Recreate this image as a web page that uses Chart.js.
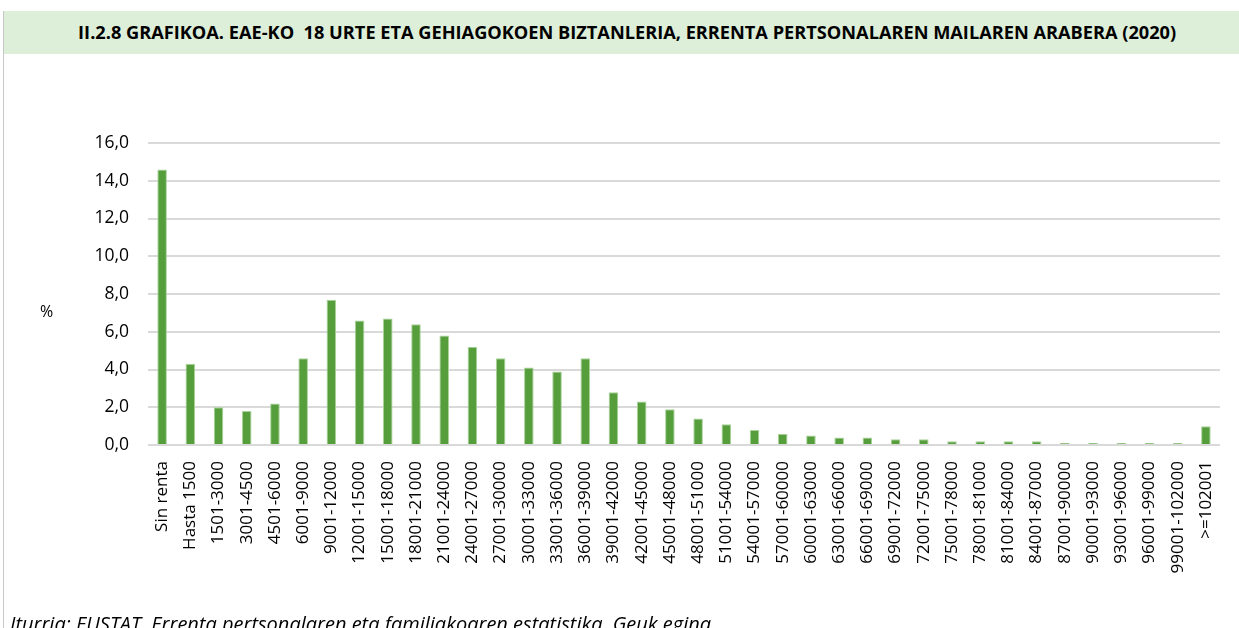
<!DOCTYPE html>
<html>
<head>
<meta charset="utf-8">
<script src="https://cdn.jsdelivr.net/npm/chart.js@4/dist/chart.umd.min.js"></script>
<style>
  html, body { margin: 0; padding: 0; background: #fff; }
  #wrap { position: relative; width: 1239px; height: 628px; overflow: hidden; }
  #chart { position: absolute; left: 0; top: 0; }
  .frame { position: absolute; left: 3px; top: 11px; width: 1px; height: 617px; background: #c8c8c8; }
  .title {
    position: absolute; left: 4px; top: 11px; width: 1235px; height: 43px;
    background: #deefd9; font-family: "Open Sans", sans-serif; font-weight: bold;
    font-size: 17px; line-height: 43px; text-align: center; color: #000; white-space: nowrap;
  }
  .title span { display: inline-block; transform: translateX(6px) scaleX(1.07); transform-origin: 50% 50%; }
  .pct { position: absolute; left: 40px; top: 300px; font-family: "Open Sans", sans-serif; font-size: 16px; }
  .src {
    position: absolute; left: 10px; top: 614px; font-family: "Open Sans", sans-serif;
    font-style: italic; font-size: 20px; line-height: 20px; color: #000; white-space: nowrap;
  }
</style>
</head>
<body>
<div id="wrap">
  <canvas id="chart" width="1239" height="628"></canvas>
  <div class="frame"></div>
  <div class="title"><span>II.2.8 GRAFIKOA. EAE-KO&nbsp; 18 URTE ETA GEHIAGOKOEN BIZTANLERIA, ERRENTA PERTSONALAREN MAILAREN ARABERA (2020)</span></div>
  <div class="pct">%</div>
  <div class="src">Iturria: EUSTAT. Errenta pertsonalaren eta familiakoaren estatistika. Geuk egina</div>
</div>
<script>
const labels = [
  "Sin renta", "Hasta 1500", "1501-3000", "3001-4500", "4501-6000", "6001-9000",
  "9001-12000", "12001-15000", "15001-18000", "18001-21000", "21001-24000",
  "24001-27000", "27001-30000", "30001-33000", "33001-36000", "36001-39000",
  "39001-42000", "42001-45000", "45001-48000", "48001-51000", "51001-54000",
  "54001-57000", "57001-60000", "60001-63000", "63001-66000", "66001-69000",
  "69001-72000", "72001-75000", "75001-78000", "78001-81000", "81001-84000",
  "84001-87000", "87001-90000", "90001-93000", "93001-96000", "96001-99000",
  "99001-102000", ">=102001"
];

const values = [
  14.6, 4.3, 2.0, 1.8, 2.2, 4.6,
  7.7, 6.6, 6.7, 6.4, 5.8,
  5.2, 4.6, 4.1, 3.9, 4.6,
  2.8, 2.3, 1.9, 1.4, 1.1,
  0.8, 0.6, 0.5, 0.4, 0.4,
  0.3, 0.3, 0.2, 0.2, 0.2,
  0.2, 0.1, 0.1, 0.1, 0.1,
  0.1, 1.0
];

const yTicks = [0, 2, 4, 6, 8, 10, 12, 14, 16];

const ctx = document.getElementById('chart');

new Chart(ctx, {
  type: 'bar',
  data: {
    labels: labels,
    datasets: [{
      label: '%',
      data: values,
      backgroundColor: '#559e3b',
      borderColor: '#a9d39a',
      borderWidth: { top: 1, left: 1, right: 1, bottom: 0 },
      categoryPercentage: 1,
      barPercentage: 0.34
    }]
  },
  options: {
    responsive: false,
    animation: false,
    layout: {
      padding: { top: 143, right: 19, bottom: 0, left: 0 }
    },
    plugins: {
      legend: { display: false },
      tooltip: { enabled: false }
    },
    scales: {
      x: {
        grid: { display: false },
        border: { display: false },
        ticks: {
          autoSkip: false,
          minRotation: 90,
          maxRotation: 90,
          padding: 8,
          color: '#000',
          font: { family: 'Open Sans', size: 17 }
        },
        afterFit: (s) => { s.height = 183; }
      },
      y: {
        min: 0,
        max: 16,
        afterBuildTicks: (s) => { s.ticks = yTicks.map(v => ({ value: v })); },
        grid: { color: '#d9d9d9', lineWidth: 2, drawTicks: false },
        border: { display: false },
        ticks: {
          padding: 19,
          color: '#000',
          font: { family: 'Open Sans', size: 17.5 },
          callback: (v) => v.toFixed(1).replace('.', ',')
        },
        afterFit: (s) => { s.width = 148; }
      }
    }
  }
});
</script>
</body>
</html>
